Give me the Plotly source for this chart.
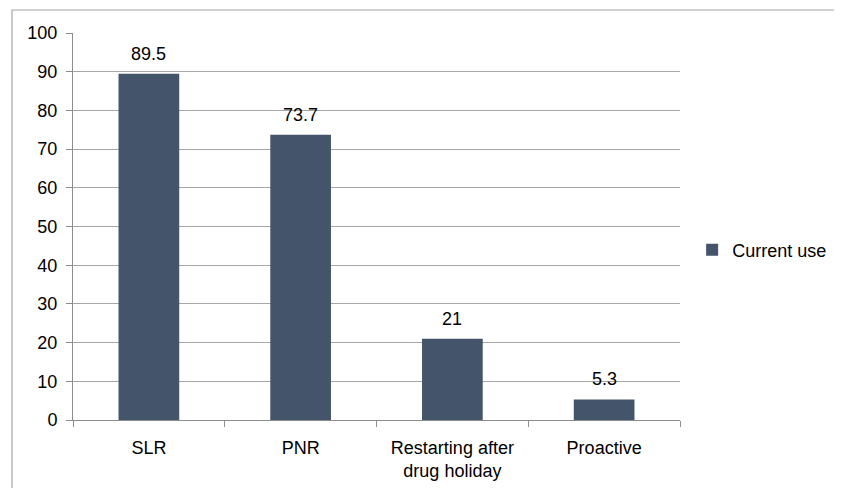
import plotly.graph_objects as go

categories = ["SLR", "PNR", "Restarting after<br>drug holiday", "Proactive"]
values = [89.5, 73.7, 21, 5.3]
value_labels = ["89.5", "73.7", "21", "5.3"]
series_name = "Current use"
y_ticks = list(range(0, 101, 10))

# page body has an 8px margin, so the figure is offset by 8px
OFF = 8
W, H = 842 - OFF, 488 - OFF
L, R, T, B = 73, 680, 33, 420  # target plot area in window pixels

fig = go.Figure()
fig.add_trace(go.Bar(
    x=categories, y=values, name=series_name,
    marker=dict(color="#44546a", line=dict(width=0)),
    showlegend=True,
))
for c, v, t in zip(categories, values, value_labels):
    fig.add_annotation(x=c, y=v, text=t, showarrow=False, yanchor="bottom",
                       yshift=8, font=dict(size=18, color="#000000"))

pw, ph = R - L, B - T
fig.add_shape(type="rect", xref="paper", yref="paper",
              x0=(12 - L) / pw, x1=(860 - L) / pw,
              y0=(B - 520) / ph, y1=(B - 10) / ph,
              line=dict(color="#a6a6a6", width=1.2), fillcolor="rgba(0,0,0,0)", layer="below")

fig.update_layout(
    width=W, height=H,
    margin=dict(l=L - OFF, r=W + OFF - R, t=T - OFF, b=H + OFF - B, pad=0, autoexpand=False),
    paper_bgcolor="white", plot_bgcolor="white",
    font=dict(family="Liberation Sans, Arial, Helvetica, sans-serif", size=18, color="#000000"),
    bargap=0.6,
    showlegend=True,
    legend=dict(x=1.02, xanchor="left", y=(B - 250) / (B - T), yanchor="middle",
                font=dict(size=18), bgcolor="rgba(0,0,0,0)"),
    xaxis=dict(showgrid=False, showline=True, linecolor="#8c8c8c", linewidth=1,
               ticks="outside", tickson="boundaries", ticklen=6, tickcolor="#8c8c8c",
               tickfont=dict(size=18), ticklabelstandoff=11, automargin=False),
    yaxis=dict(range=[0, 100], tickvals=y_ticks, showgrid=True, gridcolor="#a6a6a6",
               gridwidth=1, showline=True, linecolor="#8c8c8c", linewidth=1,
               ticks="outside", ticklen=6, tickcolor="#8c8c8c", zeroline=False,
               tickfont=dict(size=18), ticklabelstandoff=5, fixedrange=True, automargin=False),
)

fig.write_html("out.html")
